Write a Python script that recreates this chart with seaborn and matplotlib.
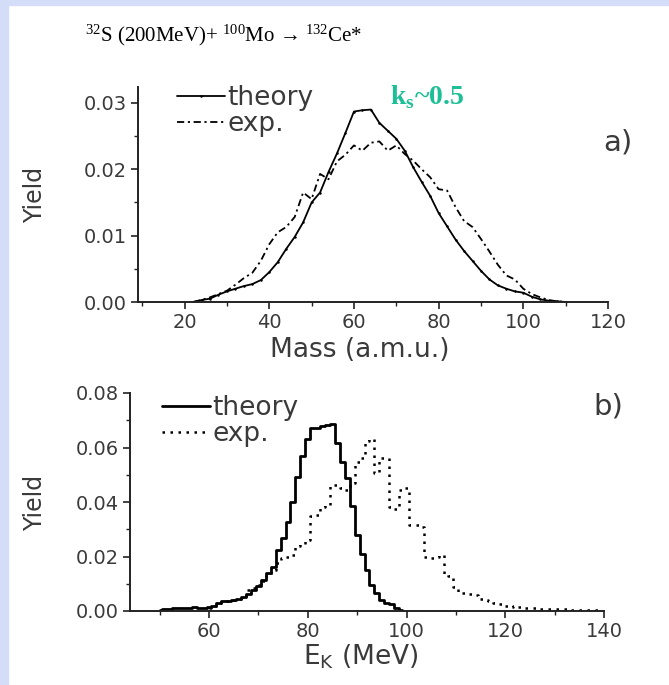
import matplotlib
matplotlib.use("Agg")
import matplotlib.pyplot as plt
from matplotlib.patches import Rectangle
from matplotlib.ticker import MultipleLocator
import seaborn as sns

# panel a) mass distribution, 2 a.m.u. steps
mass = [22, 24, 26, 28, 30, 32, 34, 36, 38, 40, 42, 44, 46, 48, 50, 52, 54, 56,
        58, 60, 62, 64, 66, 68, 70, 72, 74, 76, 78, 80, 82, 84, 86, 88, 90, 92,
        94, 96, 98, 100, 102, 104, 106, 108, 110]
mass_theory = [0.0000, 0.0003, 0.0005, 0.0011, 0.0016, 0.0020, 0.0024, 0.0027,
               0.0033, 0.0045, 0.0060, 0.0080, 0.0098, 0.0120, 0.0150, 0.0165,
               0.0196, 0.0224, 0.0255, 0.0287, 0.0289, 0.0290, 0.0270, 0.0258,
               0.0246, 0.0228, 0.0203, 0.0181, 0.0160, 0.0134, 0.0114, 0.0094,
               0.0077, 0.0062, 0.0047, 0.0034, 0.0025, 0.0020, 0.0016, 0.0014,
               0.0008, 0.0004, 0.0002, 0.0001, 0.0000]
mass_exp = [0.0000, 0.0003, 0.0007, 0.0012, 0.0017, 0.0026, 0.0036, 0.0044,
            0.0062, 0.0087, 0.0105, 0.0113, 0.0128, 0.0165, 0.0155, 0.0193,
            0.0185, 0.0212, 0.0222, 0.0236, 0.0228, 0.0240, 0.0242, 0.0228,
            0.0236, 0.0223, 0.0213, 0.0200, 0.0188, 0.0170, 0.0168, 0.0143,
            0.0122, 0.0113, 0.0095, 0.0076, 0.0056, 0.0040, 0.0034, 0.0020,
            0.0012, 0.0007, 0.0003, 0.0001, 0.0000]

# panel b) kinetic energy distribution, 1 MeV bins
ek_theory_x = list(range(50, 100))
ek_theory = [0.0005, 0.0006, 0.0008, 0.0010, 0.0010, 0.0011, 0.0012, 0.0016,
             0.0012, 0.0010, 0.0015, 0.0020, 0.0030, 0.0036, 0.0037, 0.0040,
             0.0045, 0.0052, 0.0062, 0.0076, 0.0092, 0.0115, 0.0140, 0.0160,
             0.0225, 0.0268, 0.0328, 0.0400, 0.0490, 0.0568, 0.0630, 0.0670,
             0.0672, 0.0680, 0.0683, 0.0685, 0.0615, 0.0548, 0.0488, 0.0385,
             0.0280, 0.0210, 0.0150, 0.0095, 0.0065, 0.0040, 0.0028, 0.0026,
             0.0010, 0.0004]
ek_exp_x = list(range(60, 141))
ek_exp = [0.0012, 0.0018, 0.0028, 0.0034, 0.0036, 0.0040, 0.0045, 0.0055,
          0.0078, 0.0085, 0.0095, 0.0110, 0.0130, 0.0150, 0.0175, 0.0195,
          0.0200, 0.0205, 0.0240, 0.0245, 0.0260, 0.0350, 0.0352, 0.0380,
          0.0390, 0.0462, 0.0462, 0.0450, 0.0445, 0.0470, 0.0548, 0.0560,
          0.0625, 0.0630, 0.0505, 0.0560, 0.0560, 0.0380, 0.0375, 0.0445,
          0.0450, 0.0316, 0.0316, 0.0310, 0.0200, 0.0195, 0.0200, 0.0205,
          0.0132, 0.0130, 0.0089, 0.0065, 0.0065, 0.0064, 0.0060, 0.0045,
          0.0040, 0.0038, 0.0028, 0.0025, 0.0018, 0.0016, 0.0017, 0.0014,
          0.0012, 0.0011, 0.0010, 0.0008, 0.0008, 0.0007, 0.0007, 0.0006,
          0.0006, 0.0005, 0.0005, 0.0004, 0.0004, 0.0003, 0.0003, 0.0002,
          0.0000]

sns.set_style("ticks")
plt.rcParams["font.family"] = ["DejaVu Sans"]
plt.rcParams["mathtext.fontset"] = "custom"
plt.rcParams["mathtext.rm"] = "Liberation Serif"
plt.rcParams["mathtext.bf"] = "Liberation Serif:bold"

TXT = "#3a3a3a"
W, H = 669, 685

fig = plt.figure(figsize=(W / 100, H / 100), dpi=100)
fig.patches.append(Rectangle((0, 0), 8 / W, 1, transform=fig.transFigure,
                             color="#d3ddf8", zorder=0))
fig.patches.append(Rectangle((0, 1 - 5 / H), 1, 5 / H, transform=fig.transFigure,
                             color="#d3ddf8", zorder=0))

ax1 = fig.add_axes([138 / W, 1 - 302 / H, 470 / W, 215 / H])
ax2 = fig.add_axes([130 / W, 1 - 611 / H, 474 / W, 218 / H])

sns.lineplot(x=mass, y=mass_theory, ax=ax1, color="black", lw=1.3,
             marker="o", markersize=1.8, markeredgewidth=0, label="theory")
sns.lineplot(x=mass, y=mass_exp, ax=ax1, color="black", lw=1.3,
             linestyle=(0, (4, 2, 1.2, 2)), label="exp.")

sns.lineplot(x=ek_theory_x, y=ek_theory, ax=ax2, color="black", lw=2.0,
             drawstyle="steps-mid", label="theory")
sns.lineplot(x=ek_exp_x, y=ek_exp, ax=ax2, color="black", lw=1.8,
             drawstyle="steps-mid", linestyle=(0, (1, 2.2)), label="exp.")

ax1.set_xlim(9, 120)
ax1.set_ylim(0, 0.0324)
ax1.xaxis.set_major_locator(MultipleLocator(20))
ax1.xaxis.set_minor_locator(MultipleLocator(10))
ax1.yaxis.set_major_locator(MultipleLocator(0.01))
ax1.yaxis.set_minor_locator(MultipleLocator(0.005))

ax2.set_xlim(44, 140)
ax2.set_ylim(0, 0.08)
ax2.xaxis.set_major_locator(MultipleLocator(20))
ax2.xaxis.set_minor_locator(MultipleLocator(10))
ax2.yaxis.set_major_locator(MultipleLocator(0.02))
ax2.yaxis.set_minor_locator(MultipleLocator(0.01))

for ax in (ax1, ax2):
    sns.despine(ax=ax)
    for side in ("left", "bottom"):
        ax.spines[side].set_linewidth(1.4)
        ax.spines[side].set_color("#222222")
    ax.tick_params(which="major", direction="out", length=5, width=1.2,
                   labelsize=14, labelcolor=TXT, color="#222222", pad=3)
    ax.tick_params(which="minor", direction="out", length=3, width=1.0,
                   color="#222222")
    ax.yaxis.set_major_formatter(plt.FormatStrFormatter("%.2f"))
    ax.set_ylabel("Yield", fontsize=17, color=TXT)
    ax.legend(loc="upper left", frameon=False, fontsize=19, handlelength=1.8,
              handletextpad=0.1, labelspacing=0.0, borderpad=0,
              bbox_to_anchor=(0.055, 1.07) if ax is ax1 else (0.04, 1.05),
              labelcolor=TXT)

ax1.set_xlabel("Mass (a.m.u.)", fontsize=19, color=TXT)
ax2.set_xlabel(r"E$_\mathregular{K}$ (MeV)", fontsize=19, color=TXT)
ax1.xaxis.set_label_coords(0.472, -0.165)
ax2.xaxis.set_label_coords(0.487, -0.145)
ax1.yaxis.set_label_coords(-0.194, 0.5)
ax2.yaxis.set_label_coords(-0.175, 0.495)

ax1.text(0.989, 0.74, "a)", transform=ax1.transAxes, fontsize=21, color=TXT,
         ha="left", va="center")
ax2.text(0.977, 0.94, "b)", transform=ax2.transAxes, fontsize=21, color=TXT,
         ha="left", va="center")

fig.text(390 / W, 1 - 97 / H, r"k$_\mathregular{s}$~0.5", fontsize=20,
         fontweight="bold", family=["Liberation Serif", "DejaVu Serif"],
         color="#1dbf96", ha="left", va="center")
fig.text(85 / W, 1 - 35 / H,
         r"$\mathregular{^{32}}$S (200MeV)+ $\mathregular{^{100}}$Mo → "
         r"$\mathregular{^{132}}$Ce*",
         fontsize=15, family=["Liberation Serif", "DejaVu Serif"],
         color="black", ha="left", va="center")

fig.savefig("out.png", dpi=100, facecolor="white")
